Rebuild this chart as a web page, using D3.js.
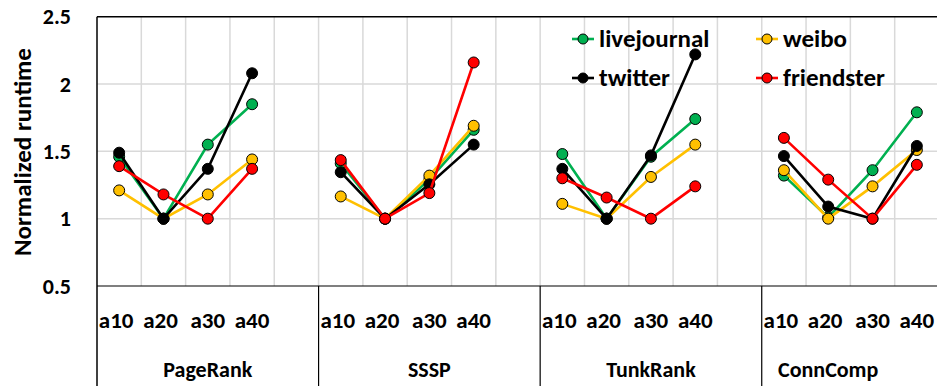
<!DOCTYPE html>
<html>
<head>
<meta charset="UTF-8">
<style>
  body { margin: 0; background: #fff; }
  svg { display: block; font-family: Carlito, Lato, "Liberation Sans", sans-serif; font-weight: bold; }
</style>
</head>
<body>
<svg></svg>
<script src="https://d3js.org/d3.v7.min.js"></script>
<script>
let width = 937, height = 386;

// data
let groups = ["PageRank", "SSSP", "TunkRank", "ConnComp"];
let ticks = ["a10", "a20", "a30", "a40"];
let yTicks = [0.5, 1, 1.5, 2, 2.5];
let seriesNames = ["livejournal", "weibo", "twitter", "friendster"];
let seriesColors = ["#00B050", "#FFC000", "#000000", "#FF0000"];
let livejournal = [1.46, 1.0, 1.55, 1.85,  1.41, 1.0, 1.29, 1.66,  1.48, 1.0, 1.46, 1.74,  1.32, 1.01, 1.36, 1.79];
let weibo       = [1.21, 1.0, 1.18, 1.44,  1.165, 1.0, 1.32, 1.69, 1.11, 1.0, 1.31, 1.55,  1.36, 1.0, 1.24, 1.51];
let twitter     = [1.49, 1.0, 1.37, 2.08,  1.345, 1.0, 1.255, 1.55, 1.37, 1.0, 1.47, 2.22, 1.465, 1.09, 1.0, 1.54];
let friendster  = [1.39, 1.18, 1.0, 1.37,  1.435, 1.0, 1.19, 2.16, 1.30, 1.157, 1.0, 1.24, 1.60, 1.29, 1.0, 1.40];
let values = [livejournal, weibo, twitter, friendster];

let svg = d3.select("svg").attr("width", width).attr("height", height);

let plot = {left: 97, right: 939, top: 16.7, bottom: 286};

// 5 slots per group (4 ticks + gap), last group without gap
let slots = [];
groups.forEach((g, gi) => {
    ticks.forEach(t => slots.push(g + "|" + t));
    if (gi < groups.length - 1) slots.push(g + "|");
});

let x = d3.scaleBand().domain(slots).range([plot.left, plot.right]).padding(0);
let y = d3.scaleLinear().domain([0.5, 2.5]).range([plot.bottom, plot.top]);

// gridlines
let grid = svg.append("g");
grid.selectAll(".hg").data(yTicks.filter(d => d > 0.5 && d < 2.5)).enter()
    .append("line")
    .attr("x1", plot.left).attr("x2", width)
    .attr("y1", d => y(d)).attr("y2", d => y(d))
    .attr("stroke", "#D9D9D9").attr("stroke-width", 1.5);
grid.selectAll(".vg").data(slots.slice(1)).enter()
    .append("line")
    .attr("x1", d => x(d)).attr("x2", d => x(d))
    .attr("y1", plot.top).attr("y2", plot.bottom)
    .attr("stroke", "#D9D9D9").attr("stroke-width", 1.5);

// plot border
svg.append("line").attr("x1", plot.left).attr("x2", width)
    .attr("y1", plot.top).attr("y2", plot.top).attr("stroke", "#000").attr("stroke-width", 1.5);
svg.append("line").attr("x1", plot.left).attr("x2", plot.left)
    .attr("y1", plot.top).attr("y2", height).attr("stroke", "#000").attr("stroke-width", 1.5);
svg.append("line").attr("x1", plot.left).attr("x2", width)
    .attr("y1", plot.bottom).attr("y2", plot.bottom).attr("stroke", "#000").attr("stroke-width", 1.2);

// group separators
groups.slice(1).forEach(g => {
    let xs = x(g + "|a10");
    svg.append("line").attr("x1", xs).attr("x2", xs)
        .attr("y1", plot.bottom).attr("y2", height).attr("stroke", "#000").attr("stroke-width", 1.2);
});

// y axis
let yAxis = svg.append("g")
    .attr("transform", `translate(${plot.left - 26},0)`)
    .call(d3.axisLeft(y).tickValues(yTicks).tickSize(0).tickFormat(d => d));
yAxis.select(".domain").remove();
yAxis.selectAll("text")
    .attr("x", 0)
    .style("font-family", "Carlito, Lato, sans-serif")
    .style("font-weight", "bold")
    .style("font-size", "22px")
    .attr("fill", "#000");

svg.append("text")
    .attr("transform", `translate(31,152) rotate(-90)`)
    .attr("text-anchor", "middle")
    .style("font-size", "25px")
    .text("Normalized runtime");

// category labels
groups.forEach((g, gi) => {
    ticks.forEach((t, ti) => {
        svg.append("text")
            .attr("x", x(g + "|" + t) + x.bandwidth() / 2 - (ti < 2 ? 3 : 0))
            .attr("y", 328)
            .attr("text-anchor", "middle")
            .style("font-size", "23px")
            .text(t);
    });
    let x0 = x(g + "|a10");
    let x1 = gi < groups.length - 1 ? x(g + "|") + x.bandwidth() : x(g + "|a40");
    svg.append("text")
        .attr("x", (x0 + x1) / 2)
        .attr("y", 377)
        .attr("text-anchor", "middle")
        .style("font-size", "22px")
        .text(g);
});

// series
let line = d3.line().x(d => d[0]).y(d => d[1]);
values.forEach((vals, si) => {
    let sg = svg.append("g");
    groups.forEach((g, gi) => {
        let pts = ticks.map((t, ti) => [x(g + "|" + t) + x.bandwidth() / 2, y(vals[gi * 4 + ti])]);
        sg.append("path").attr("d", line(pts))
            .attr("fill", "none").attr("stroke", seriesColors[si]).attr("stroke-width", 2.6);
        sg.selectAll(null).data(pts).enter().append("circle")
            .attr("cx", d => d[0]).attr("cy", d => d[1]).attr("r", 5.5)
            .attr("fill", seriesColors[si]).attr("stroke", "#000").attr("stroke-width", 1);
    });
});

// legend
let legendPos = [[583, 39], [767, 39], [583, 78], [767, 78]];
seriesNames.forEach((n, i) => {
    let lg = svg.append("g").attr("transform", `translate(${legendPos[i][0]},${legendPos[i][1]})`);
    lg.append("line").attr("x1", -11).attr("x2", 11).attr("stroke", seriesColors[i]).attr("stroke-width", 2.6);
    lg.append("circle").attr("r", 5).attr("fill", seriesColors[i]).attr("stroke", "#000").attr("stroke-width", 1);
    lg.append("text").attr("x", 16).attr("y", 8).style("font-size", "25px").text(n);
});
</script>
</body>
</html>
